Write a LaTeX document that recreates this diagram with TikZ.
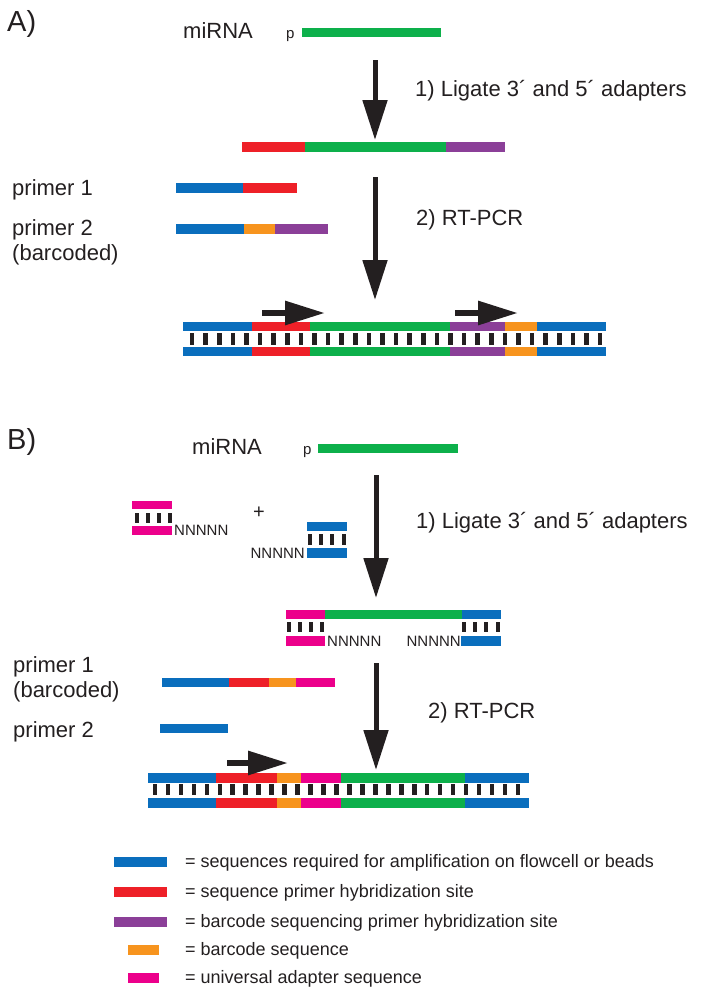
\documentclass[tikz,border=0pt]{standalone}
\usepackage{fontspec}
\setmainfont{Liberation Sans}
\usepackage{tikz}
\usetikzlibrary{arrows.meta,positioning}
\definecolor{ink}{HTML}{231F20}
\definecolor{sblue}{HTML}{0A6EBD}
\definecolor{sred}{HTML}{EE2028}
\definecolor{sgreen}{HTML}{0DB04B}
\definecolor{spurple}{HTML}{8B3F98}
\definecolor{sorange}{HTML}{F7941E}
\definecolor{spink}{HTML}{EC008B}

\begin{document}
\begin{tikzpicture}[x=1pt,y=-1pt,
  lbl/.style={anchor=base west,inner sep=0pt,text=ink,font=\fontsize{22}{26}\selectfont},
  panel/.style={anchor=base west,inner sep=0pt,text=ink,font=\fontsize{29}{32}\selectfont},
  key/.style={anchor=base west,inner sep=0pt,text=ink,font=\fontsize{18}{22}\selectfont},
  tiny/.style={anchor=base west,inner sep=0pt,text=ink,font=\fontsize{15}{17}\selectfont},
  nn/.style={inner sep=0pt,text=ink,font=\fontsize{15}{18}\selectfont},
  bigarrow/.style={draw=ink,line width=5pt,-{Triangle[length=40pt,width=24pt]}},
  smallarrow/.style={draw=ink,line width=6pt,-{Triangle[length=40pt,width=23pt]}},
  rung/.style={fill=ink}]
          \useasboundingbox (0,0) rectangle (701,996);
          % A) ligation of adapters
          \node[panel] (labA) at (7,31) {A)};
          \node[lbl] (mirA) at (183,38) {miRNA};
          \node[tiny] (pA) at (286,38) {p};
          \fill[sgreen] (302,28) rectangle (441,37);
          \coordinate (arA1s) at (375,60);
          \coordinate (arA1e) at (375,140);
          \draw[bigarrow] (arA1s) -- (arA1e);
          \node[lbl] (stepA1) at (415,96) {1) Ligate 3´ and 5´ adapters};
          \fill[sred] (242,142) rectangle (305,152);
          \fill[sgreen] (305,142) rectangle (446,152);
          \fill[spurple] (446,142) rectangle (505,152);
          \node[lbl] (p1A) at (12,195) {primer 1};
          \fill[sblue] (176,183) rectangle (243,193);
          \fill[sred] (243,183) rectangle (297,193);
          \node[lbl] (p2A) at (12,235) {primer 2};
          \node[lbl] (bcA) at (12,260) {(barcoded)};
          \fill[sblue] (176,224) rectangle (244,234);
          \fill[sorange] (244,224) rectangle (275,234);
          \fill[spurple] (275,224) rectangle (328,234);
          \coordinate (arA2s) at (375,177);
          \coordinate (arA2e) at (375,300);
          \draw[bigarrow] (arA2s) -- (arA2e);
          \node[lbl] (stepA2) at (416,225) {2) RT-PCR};
          % A) product
          \foreach \y in {322,347} {
            \fill[sblue] (183,\y) rectangle (252,\y+9);
            \fill[sred] (252,\y) rectangle (310,\y+9);
            \fill[sgreen] (310,\y) rectangle (450,\y+9);
            \fill[spurple] (450,\y) rectangle (505,\y+9);
            \fill[sorange] (505,\y) rectangle (537,\y+9);
            \fill[sblue] (537,\y) rectangle (606,\y+9);
          }
          \foreach \i in {0,...,30}
            \fill[rung] ({192+13.6*\i-2.3},333) rectangle ++(4.6,12);
          \coordinate (fwA1s) at (262,313);
          \coordinate (fwA1e) at (325,313);
          \draw[smallarrow] (fwA1s) -- (fwA1e);
          \coordinate (fwA2s) at (455,313);
          \coordinate (fwA2e) at (518,313);
          \draw[smallarrow] (fwA2s) -- (fwA2e);
          % B) ligation of adapters
          \node[panel] (labB) at (7,449) {B)};
          \node[lbl] (mirB) at (192,454) {miRNA};
          \node[tiny] (pB) at (303,454) {p};
          \fill[sgreen] (318,444) rectangle (458,453);
          \fill[spink] (132,501) rectangle (172,509);
          \foreach \x in {137,148,159,170}
            \fill[rung] (\x-2.3,513) rectangle ++(4.6,10);
          \fill[spink] (132,526) rectangle (172,535);
          \node[nn,anchor=base west] (nl1) at (174,535) {NNNNN};
          \node[font=\fontsize{20}{22}\selectfont,text=ink,inner sep=0pt] (plus) at (259,513) {+};
          \fill[sblue] (307,522) rectangle (347,531);
          \foreach \x in {310,321,332,344}
            \fill[rung] (\x-2.3,534) rectangle ++(4.6,11);
          \fill[sblue] (307,548) rectangle (347,558);
          \node[nn,anchor=base east] (nr1) at (305,558) {NNNNN};
          \coordinate (arB1s) at (376,475);
          \coordinate (arB1e) at (376,598);
          \draw[bigarrow] (arB1s) -- (arB1e);
          \node[lbl] (stepB1) at (416,528) {1) Ligate 3´ and 5´ adapters};
          \fill[spink] (286,610) rectangle (325,619);
          \fill[sgreen] (325,610) rectangle (462,619);
          \fill[sblue] (462,610) rectangle (501,619);
          \foreach \x in {289,300,311,322,464,475,486,498}
            \fill[rung] (\x-2.3,622) rectangle ++(4.6,10);
          \fill[spink] (286,636) rectangle (325,646);
          \fill[sblue] (461,636) rectangle (501,646);
          \node[nn,anchor=base west] (nl2) at (327,646) {NNNNN};
          \node[nn,anchor=base east] (nr2) at (461,646) {NNNNN};
          \node[lbl] (p1B) at (13,672) {primer 1};
          \node[lbl] (bcB) at (13,697) {(barcoded)};
          \fill[sblue] (162,678) rectangle (229,687);
          \fill[sred] (229,678) rectangle (269,687);
          \fill[sorange] (269,678) rectangle (296,687);
          \fill[spink] (296,678) rectangle (335,687);
          \node[lbl] (p2B) at (13,737) {primer 2};
          \fill[sblue] (160,724) rectangle (228,733);
          \coordinate (arB2s) at (376,663);
          \coordinate (arB2e) at (376,770);
          \draw[bigarrow] (arB2s) -- (arB2e);
          \node[lbl] (stepB2) at (428,718) {2) RT-PCR};
          % B) product
          \foreach \y in {773,798} {
            \fill[sblue] (148,\y) rectangle (216,\y+9.5);
            \fill[sred] (216,\y) rectangle (277,\y+9.5);
            \fill[sorange] (277,\y) rectangle (301,\y+9.5);
            \fill[spink] (301,\y) rectangle (341,\y+9.5);
            \fill[sgreen] (341,\y) rectangle (465,\y+9.5);
            \fill[sblue] (465,\y) rectangle (529,\y+9.5);
          }
          \foreach \i in {0,...,28}
            \fill[rung] ({155+12.96*\i-2.3},784) rectangle ++(4.6,11);
          \coordinate (fwBs) at (227,763);
          \coordinate (fwBe) at (288,763);
          \draw[smallarrow] (fwBs) -- (fwBe);
          % legend
          \fill[sblue] (114,857) rectangle (167,867);
          \node[key] (k1) at (185,867) {= sequences required for amplification on flowcell or beads};
          \fill[sred] (114,887) rectangle (167,897);
          \node[key] (k2) at (185,897) {= sequence primer hybridization site};
          \fill[spurple] (114,917) rectangle (167,927);
          \node[key] (k3) at (185,927) {= barcode sequencing primer hybridization site};
          \fill[sorange] (128,945) rectangle (159,955);
          \node[key] (k4) at (185,955) {= barcode sequence};
          \fill[spink] (128,973) rectangle (159,983);
          \node[key] (k5) at (185,983) {= universal adapter sequence};
        \end{tikzpicture}
\end{document}
